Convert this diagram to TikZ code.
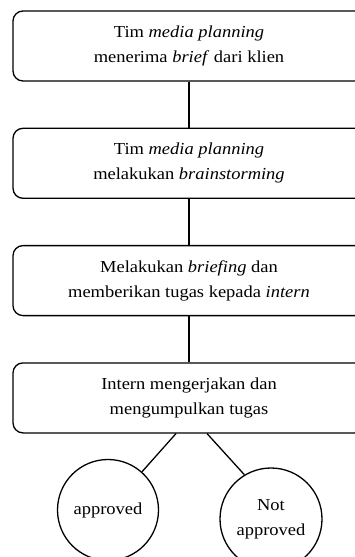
\documentclass[tikz,border=0pt]{standalone}
\usepackage{fontspec}
\setmainfont{Liberation Serif}[FakeStretch=1.1]
\usetikzlibrary{positioning}

\tikzset{
  stepbox/.style={draw,line width=1.3pt,rounded corners=10pt,align=center,
    minimum width=352pt,minimum height=70pt,inner sep=0pt,
    font=\fontsize{16.8}{25}\selectfont},
  result/.style={draw,circle,line width=1.3pt,align=center,inner sep=0pt,
    font=\fontsize{16.8}{25}\selectfont},
  link/.style={line width=1.3pt}
}

\begin{document}
\begin{tikzpicture}[x=1pt,y=1pt,node distance=46pt]
\useasboundingbox (0,0) rectangle (355,-557);
\clip (0,0) rectangle (355,-557);
% process steps
\node[stepbox] (brief) at (189,-46) {Tim \textit{media planning}\\ menerima \textit{brief} dari klien};
\node[stepbox,below=of brief] (brainstorm) {Tim \textit{media planning}\\ melakukan \textit{brainstorming}};
\node[stepbox,below=of brainstorm] (briefing) {Melakukan \textit{briefing} dan\\ memberikan tugas kepada \textit{intern}};
\node[stepbox,below=of briefing] (tugas) {Intern mengerjakan dan\\ mengumpulkan tugas};
% outcomes
\node[result,minimum size=101pt] (approved) at (108,-510) {approved};
\node[result,minimum size=102pt] (notok) at (271,-519) {Not\\ approved};
\draw[link] (brief) -- (brainstorm);
\draw[link] (brainstorm) -- (briefing);
\draw[link] (briefing) -- (tugas);
\draw[link] ([xshift=-13pt]tugas.south) -- (approved);
\draw[link] ([xshift=18pt]tugas.south) -- (notok.121);
\end{tikzpicture}
\end{document}
